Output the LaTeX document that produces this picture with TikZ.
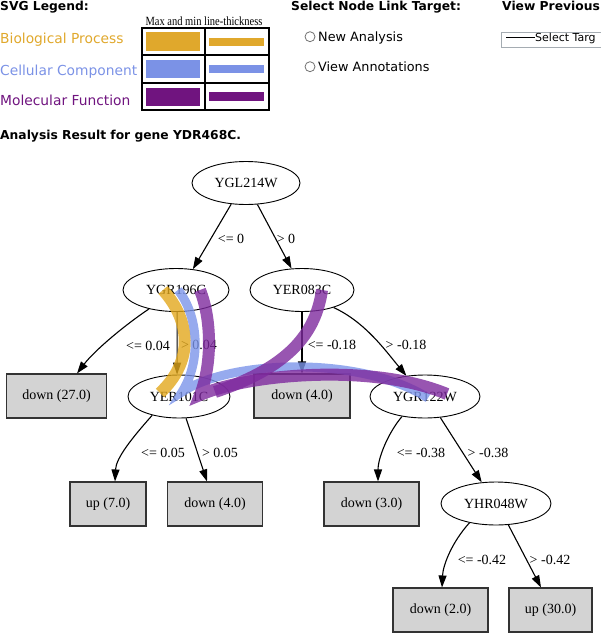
\documentclass[tikz,border=0pt]{standalone}
\usepackage{fontspec}
\setmainfont{Liberation Serif}
\newfontfamily\vfont{DejaVu Sans}
\usetikzlibrary{shapes.geometric,arrows.meta,calc}
\definecolor{bpcol}{HTML}{E0A82C}
\definecolor{cccol}{HTML}{7B92E6}
\definecolor{mfcol}{HTML}{70147F}
\definecolor{bpband}{HTML}{E2A81D}
\definecolor{ccband}{HTML}{7C95EA}
\definecolor{mfband}{HTML}{7E2A9E}
\definecolor{boxfill}{HTML}{D3D3D3}
\definecolor{selgray}{HTML}{A5ACB2}
\tikzset{
  gnode/.style={ellipse, draw, line width=0.9pt, inner sep=0pt, minimum height=43pt, font=\fontsize{14}{16}\selectfont},
  leaf/.style={rectangle, draw=black!80, line width=1.1pt, fill=boxfill, minimum height=44pt, inner sep=0pt, font=\fontsize{14}{16}\selectfont},
  edge/.style={draw, line width=1.1pt, -{Triangle[length=12pt,width=8pt]}},
  elabel/.style={font=\fontsize{14}{16}\selectfont, inner sep=0pt},
  hdr/.style={font=\vfont\bfseries\fontsize{12.3}{14}\selectfont, inner sep=0pt, anchor=base west},
  legtxt/.style={font=\vfont\fontsize{13.8}{16}\selectfont, inner sep=0pt, anchor=base west},
  radtxt/.style={font=\vfont\fontsize{12.8}{15}\selectfont, inner sep=0pt, anchor=base west},
  radio/.style={circle, draw=black!55, fill=white, line width=0.8pt, minimum size=10pt, inner sep=0pt},
  band/.style={line width=#1, opacity=0.8, line cap=butt},
}
\begin{document}
\begin{tikzpicture}[x=1pt,y=-1pt]
\useasboundingbox (0,0) rectangle (600,634);

% ---------- header ----------
\node[hdr] (h1) at (0,10.7) {SVG Legend:};
\node[hdr] (h2) at (291,10.7) {Select Node Link Target:};
\node[hdr] (h3) at (502,10.7) {View Previous};

\node[legtxt, text=bpcol] (lbp) at (0,44) {Biological Process};
\node[legtxt, text=cccol] (lcc) at (0,75.7) {Cellular Component};
\node[legtxt, text=mfcol] (lmf) at (0,105) {Molecular Function};

\node[inner sep=0pt, anchor=base] (mm) at (204,25.5) {\scalebox{0.84}[1]{\fontsize{12.5}{14}\selectfont Max and min line-thickness}};
\draw[line width=1.2pt] (142,28) rectangle (269,110);
\draw[line width=1.2pt] (205,28) -- (205,110);
\draw[line width=1.2pt] (142,55) -- (269,55);
\draw[line width=1.2pt] (142,83) -- (269,83);
\fill[bpcol] (146,32) rectangle (200,51);
\fill[bpcol] (209,38) rectangle (264,46);
\fill[cccol] (146,60) rectangle (200,78);
\fill[cccol] (209,65) rectangle (264,73);
\fill[mfcol] (146,88) rectangle (200,106);
\fill[mfcol] (209,92) rectangle (264,101);

\node[radio] (r1) at (310,36.7) {};
\node[radtxt] (t1) at (318,41.5) {New Analysis};
\node[radio] (r2) at (310,66.7) {};
\node[radtxt] (t2) at (318,71.5) {View Annotations};

\draw[draw=selgray, fill=white, line width=0.9pt] (501,32) rectangle (606,47);
\coordinate (sl1) at (506,37.5);
\coordinate (sl2) at (535,37.5);
\draw[line width=0.8pt] (sl1) -- (sl2);
\node[inner sep=0pt, anchor=base west, font=\vfont\fontsize{11}{13}\selectfont] (st) at (535,41.3) {Select Targ};

\node[hdr] (h4) at (0,139.5) {Analysis Result for gene YDR468C.};

% ---------- tree nodes ----------
\node[gnode, minimum width=108pt] (ygl) at (246,183) {YGL214W};
\node[gnode, minimum width=106pt] (ygr196) at (176,290) {YGR196C};
\node[gnode, minimum width=104pt] (yer083) at (302,290) {YER083C};
\node[leaf, minimum width=100pt] (d27) at (56.5,396) {down (27.0)};
\node[gnode, minimum width=102pt] (yer101) at (179,396.5) {YER101C};
\node[leaf, minimum width=96pt] (d4a) at (302,396) {down (4.0)};
\node[gnode, minimum width=110pt] (ygr122) at (425,396.5) {YGR122W};
\node[leaf, minimum width=76pt] (up7) at (108,504) {up (7.0)};
\node[leaf, minimum width=95pt] (d4b) at (215,504) {down (4.0)};
\node[leaf, minimum width=95pt] (d3) at (371.5,504) {down (3.0)};
\node[gnode, minimum width=110pt] (yhr048) at (496,503.5) {YHR048W};
\node[leaf, minimum width=95pt] (d2) at (440.5,610) {down (2.0)};
\node[leaf, minimum width=83pt] (up30) at (550.5,610) {up (30.0)};

% ---------- edges ----------
\draw[edge] (ygl.235) -- (ygr196.51);
\draw[edge] (ygl.298) -- (yer083.116);
\draw[edge] (ygr196.215) .. controls (125,325) and (95,350) .. ([xshift=20.5pt]d27.north);
\draw[edge] (ygr196.273) -- (yer101.95);
\draw[edge] (yer083.south) -- (d4a.north);
\draw[edge] (yer083.331) .. controls (365,322) and (385,350) .. (ygr122.132);
\draw[edge] (yer101.215) .. controls (132,438) and (116,458) .. ([xshift=7pt]up7.north);
\draw[edge] (yer101.288) -- ([xshift=-8pt]d4b.north);
\draw[edge] (ygr122.221) .. controls (388,433) and (378,458) .. ([xshift=6.5pt]d3.north);
\draw[edge] (ygr122.306) -- (yhr048.124);
\draw[edge] (yhr048.216) .. controls (452,542) and (443,565) .. ([xshift=1.5pt]d2.north);
\draw[edge] (yhr048.300) -- ([xshift=-9.5pt]up30.north);

% ---------- edge labels ----------
\node[elabel] (l1) at (231,239) {<= 0};
\node[elabel] (l2) at (286,239) {> 0};
\node[elabel] (l3) at (148,346) {<= 0.04};
\node[elabel] (l4) at (199,345) {> 0.04};
\node[elabel] (l5) at (332,345) {<= -0.18};
\node[elabel] (l6) at (406,345) {> -0.18};
\node[elabel] (l7) at (163,453) {<= 0.05};
\node[elabel] (l8) at (220,453) {> 0.05};
\node[elabel] (l9) at (421,453) {<= -0.38};
\node[elabel] (l10) at (488,453) {> -0.38};
\node[elabel] (l11) at (482,560) {<= -0.42};
\node[elabel] (l12) at (550,560) {> -0.42};

% ---------- annotation bands ----------
\coordinate (o1) at ($(ygr196)+(-13,0)$);
\coordinate (o2) at ($(yer101)+(-19,-3.5)$);
\coordinate (b1) at ($(ygr196)+(2,0)$);
\coordinate (b2) at ($(yer101)+(3,-4.5)$);
\coordinate (b3) at ($(ygr122)+(3,1.5)$);
\coordinate (p1) at ($(ygr196)+(24,0)$);
\coordinate (p2) at ($(yer101)+(21,-1.5)$);
\coordinate (p3) at ($(ygr122)+(22,-2.5)$);
\coordinate (q1) at ($(yer083)+(20,0)$);
\coordinate (q2) at ($(yer101)+(36,-4.5)$);

\draw[band=12pt, bpband] (o1) .. controls (190,320) and (195,360) .. (o2);
\draw[band=9pt, ccband] (b1) .. controls (198,315) and (202,360) .. (b2)
      .. controls (230,360) and (360,355) .. (b3);
\draw[band=12pt, mfband] (p1) .. controls (212,320) and (212,365) .. (p2)
      .. controls (245,375) and (370,362) .. (p3);
\draw[band=12pt, mfband] (q1) .. controls (315,340) and (280,370) .. (q2);
\end{tikzpicture}
\end{document}
